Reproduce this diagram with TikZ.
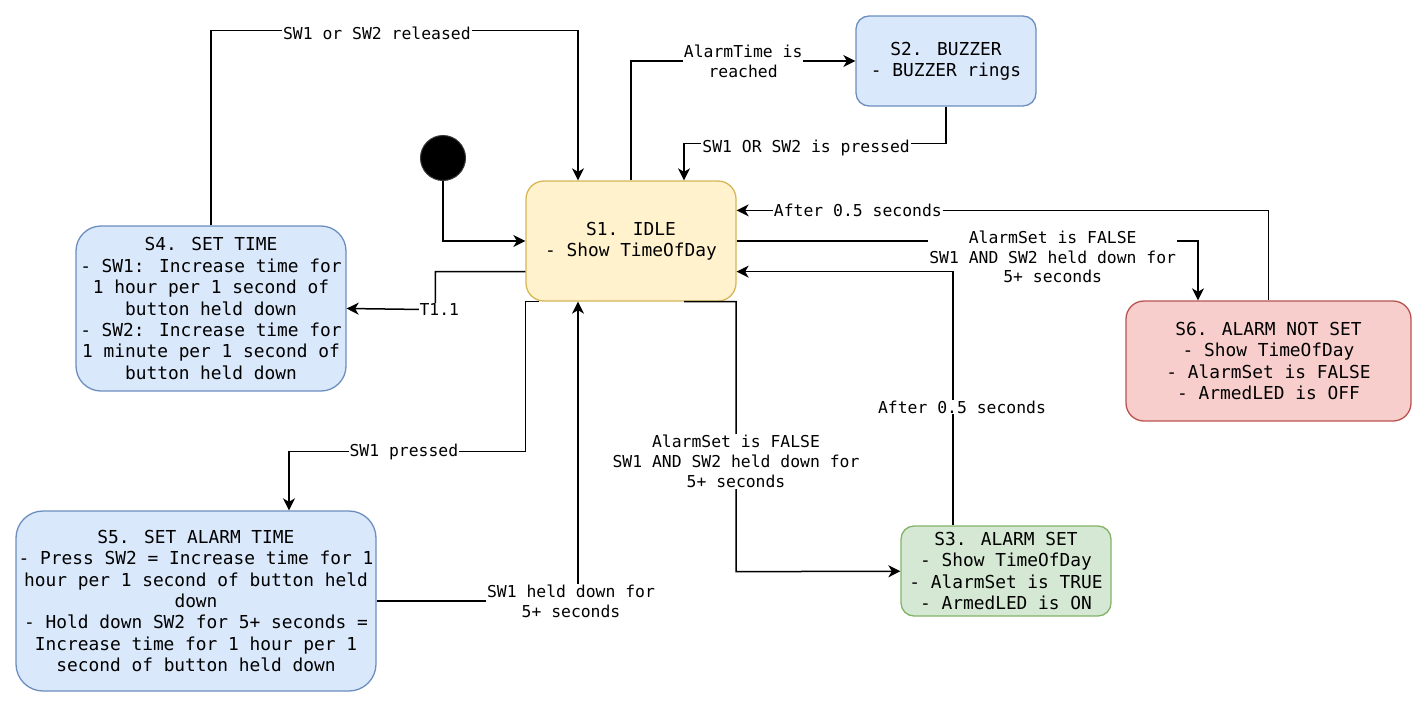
\documentclass[tikz,border=0pt]{standalone}
\usepackage{fontspec}
\setmainfont{DejaVu Sans Mono}
\usepackage{tikz}
\usetikzlibrary{calc}
\usetikzlibrary{arrows.meta}

\definecolor{idlefill}{HTML}{FFF2CC}
\definecolor{idledraw}{HTML}{D6B656}
\definecolor{bluefill}{HTML}{DAE8FC}
\definecolor{bluedraw}{HTML}{6C8EBF}
\definecolor{greenfill}{HTML}{D5E8D4}
\definecolor{greendraw}{HTML}{82B366}
\definecolor{redfill}{HTML}{F8CECC}
\definecolor{reddraw}{HTML}{B85450}
\definecolor{initdraw}{HTML}{36393D}

\begin{document}
\begin{tikzpicture}[
	state/.style={draw, line width=1.3pt, align=center, inner sep=0pt, font=\fontsize{17.85pt}{21.4pt}\selectfont},
	edge/.style={-{Stealth[length=12pt, width=12pt, inset=3.5pt]}, line width=1.5pt},
	lbl/.style={fill=white, inner sep=1pt, align=center, font=\fontsize{16.4pt}{19.8pt}\selectfont}]
				\begin{scope}[x=1pt, y=-1pt]
					
					\useasboundingbox (0,0) rectangle (1427,707);
					
					\node[circle, fill=black, draw=initdraw, line width=1pt, minimum size=45pt, inner sep=0pt] (init) at (443,158) {};
					
					\node[state, fill=idlefill, draw=idledraw, rounded corners=18pt, minimum width=210pt, minimum height=120pt] (S1) at (631,241) {S1. IDLE\\- Show TimeOfDay};
					
					\node[state, fill=bluefill, draw=bluedraw, rounded corners=13pt, minimum width=180pt, minimum height=90pt] (S2) at (946,61) {S2. BUZZER\\- BUZZER rings};
					
					\node[state, fill=greenfill, draw=greendraw, rounded corners=13pt, minimum width=210pt, minimum height=90pt] (S3) at (1006,571) {S3. ALARM SET\\- Show TimeOfDay\\- AlarmSet is TRUE\\- ArmedLED is ON};
					
					\node[state, fill=bluefill, draw=bluedraw, rounded corners=25pt, minimum width=270pt, minimum height=165pt] (S4) at (211,308.5) {S4. SET TIME\\- SW1: Increase time for\\1 hour per 1 second of\\button held down\\- SW2: Increase time for\\1 minute per 1 second of\\button held down};
					
					\node[state, fill=bluefill, draw=bluedraw, rounded corners=27pt, minimum width=360pt, minimum height=180pt] (S5) at (196,601) {S5. SET ALARM TIME\\- Press SW2 = Increase time for 1\\hour per 1 second of button held\\down\\- Hold down SW2 for 5+ seconds =\\Increase time for 1 hour per 1\\second of button held down};
					
					\node[state, fill=redfill, draw=reddraw, rounded corners=18pt, minimum width=285pt, minimum height=120pt] (S6) at (1268.5,361) {S6. ALARM NOT SET\\- Show TimeOfDay\\- AlarmSet is FALSE\\- ArmedLED is OFF};
					
					
					\coordinate (S1a) at ($(S1.north)+(-53,0)$);
					\coordinate (S1b) at ($(S1.north)+(53,0)$);
					\coordinate (S1c) at ($(S1.north east)+(0,30)$);
					\coordinate (S1d) at ($(S1.south east)+(0,-30)$);
					\coordinate (S1e) at ($(S1.south)+(53,0)$);
					\coordinate (S1f) at ($(S1.south west)+(14,0)$);
					\coordinate (S1g) at ($(S1.south)+(-53,0)$);
					\coordinate (S1h) at ($(S1.south west)+(0,-30)$);
					\coordinate (S3a) at ($(S3.north)+(-53,0)$);
					\coordinate (S5a) at ($(S5.north)+(93,0)$);
					\coordinate (S6a) at ($(S6.north)+(-70.5,0)$);
					
					
					\draw[edge] (init) |- (S1);
					
					\draw[edge] (S4.north) -- ++(0,-195) -| node[lbl, pos=0.226, yshift=-3pt] {SW1 or SW2 released} (S1a);
					
					\draw[edge] (S1.north) |- node[lbl, pos=0.75] {AlarmTime is\\reached} (S2);
					
					\draw[edge] (S2.south) -- ++(0,37) -| node[lbl, pos=0.267, yshift=-4pt] {SW1 OR SW2 is pressed} (S1b);
					
					\draw[edge] (S6.north) |- node[lbl, pos=0.886] {After 0.5 seconds} (S1c);
					
					\draw[edge] (S1.east) -| node[lbl, pos=0.3425, yshift=-16pt] {AlarmSet is FALSE\\SW1 AND SW2 held down for\\5+ seconds} (S6a);
					
					\draw[edge] (S3a) |- node[lbl, pos=0.233, xshift=9pt] {After 0.5 seconds} (S1d);
					
					\draw[edge] (S1e) -| node[lbl, pos=0.796] {AlarmSet is FALSE\\SW1 AND SW2 held down for\\5+ seconds} ++(52,270) -- (S3);
					
					\draw[edge] (S1f) -| ++(-14,150) -| node[lbl, pos=0.257] {SW1 pressed} (S5a);
					
					\draw[edge] (S1h) -| ++(-90,38) node[lbl, xshift=4pt] {T1.1} -- (S4.east);
					
					\draw[edge] (S5) -| node[lbl, pos=0.5, xshift=-7pt] {SW1 held down for\\5+ seconds} (S1g);
					
				\end{scope}
			\end{tikzpicture}
\end{document}
